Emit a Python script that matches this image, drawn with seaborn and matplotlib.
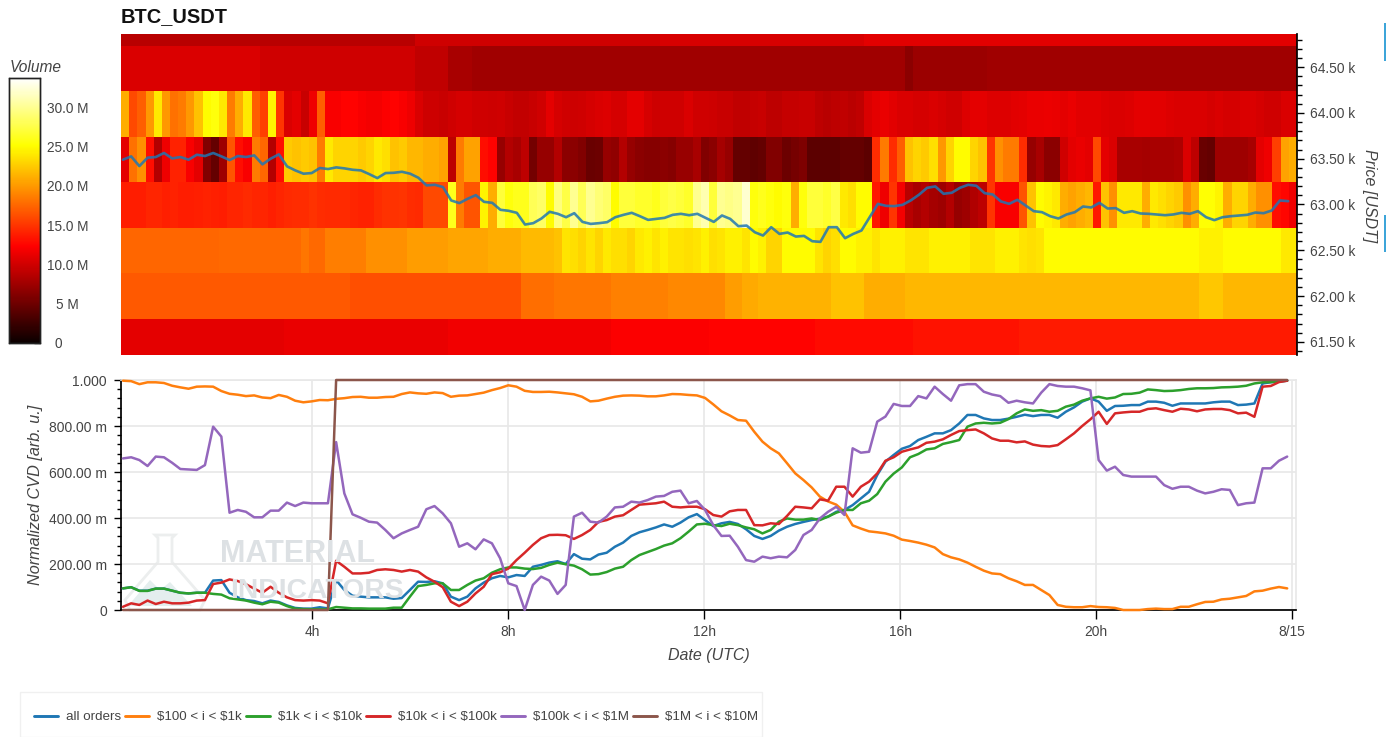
import numpy as np
import pandas as pd
import matplotlib
matplotlib.use("Agg")
import matplotlib.pyplot as plt
from matplotlib.lines import Line2D
from matplotlib.patches import Polygon, Rectangle
from matplotlib.ticker import FixedLocator, MultipleLocator
import seaborn as sns

W, H = 1387, 737

# heatmap volume per price bucket, in millions, one value per 10 minute column
row_64850 = [8.8]*36 + [10]*30 + [10.3]*25 + [10.8]*53
row_64500 = [10.4]*17 + [9.9]*2 + [10]*17 + [9.2]*4 + [8]*3 + [7.6]*53 + [6.5] + [7.3]*9 + [7.6]*38
row_64000 = [21,16,17,20,24,20,18,18.5,20,22,25,25.5,24,18.5,21,24,17,15.5,24.5,15,
             10.5,11,9.5,11.5,17,12,12,12.4,12.4,12,11.8,11.8,12.2,12.4,12,11.5,
             10.5,9.8,9.8,9.6,10,10.2,10.2,10,10,9.8,9.9,9.6,9.3,9.3,9.6,10,11,10.2,10,9.8,10,10.2,10.4,10.6,
             10.2,10.2,11,11,10.2,9.8,9.9,10,10,10.4,10,10,9.8,
             9.6,9.6,9.2,9.2,9.4,9.6,9,9,9.4,9.4,9.6,9.6,9,8.8,9,9.2,8.9,9.2,10.5,11,11.2,10.8,10.4,10.4,10.2,10.2,10.4,10.2,10,10,10.6,11,11,10.6,10.6,10.6,
             10.8,11,11.2,11.2,11.4,11.2,11,11.2,10.8,10.8,10.8,10.6,10.5,10.4,10.6,11,11,10.8,10.8,10.6,10.5,10.4,10.4,10.5,10.2,10.5,10.2,10.2,10.4,10.4,10.2,10,10,10.4,10.4]
row_63500 = [11,18,19.5,13,8.5,11.5,14,14,12,11,6,4.6,7.5,16.5,13,12,18.5,17.5,8.5,13,
             22.5,22,22.5,22,18.5,24,23,23,23,22.5,23,24,23.5,22,22.5,21.5,21.5,21,21,20.5,
             9,18.5,20.5,20.5,13,12.4,7,8.5,8,9,5.3,7,7,8.5,6.5,6.5,6,4.8,5,7,
             6.8,8.5,7,6.5,6.2,6.2,6.5,6.2,7.2,7.2,8,6,6.5,7.8,7,4.6,4.6,4.3,4.5,6,
             6,5,5.4,5.8,4.2,4.2,4.2,4.2,4.6,4.6,4.6,4.2,14.5,18.5,14.5,17,22,23,22.5,23.5,
             20,23,25,25,23,22,15,19.5,18.5,18.5,14.5,7,8,6.5,6.5,10,11,11.2,11,16,
             11,10.5,8,8,8,7.8,8,8,8,8.2,10.5,9,4.8,4.5,7.5,7.5,7.5,7.5,8,11,
             11.5,15.5,20.5,21]
row_63000 = [13.8,13.8,13.8,14.2,14.2,13.9,14,13.7,13.7,13.9,14,13.9,13.7,14.2,14.2,14.4,14.2,14.2,13.9,14.2,
             14.4,14.6,14.6,14.8,14.6,14.4,14.4,14.4,14.2,14,14,14.6,14.8,14.8,15,14.6,14.4,16,16,16,
             26,18.5,16.5,16.5,24.5,21,27,25.5,26,26,28,28.5,25,29.3,27.5,30,28,30,29,28.5,25,27,27,26.5,26.5,26,27,27.5,27,26.5,30,31,27,
             30,29.5,30,32,25.5,26,25.5,25,25.5,21,25.5,27,27,26.5,27.5,24,23.5,25,25,13.5,11.5,15,11.8,8.8,8,8.5,7.8,7.5,8.5,7,7.5,8.3,9,15,12,12,
             12,16.5,22,25,24.5,24,21,20.5,21,21.5,13.5,22,19.5,24,24,24,21,24,23.5,23,22.5,19.5,21,25.2,25.2,24.5,21,23,23,21,19.5,19.5,13,12.6,11.5]
row_62500 = [17.4]*12 + [17.6]*10 + [18.2] + [17.6]*2 + [18.6]*5 + [19.6]*5 + [20.2]*5 + [20.6]*5 + [21]*4 + [21.6]*4 + [22,
             23.8,23.5,23,23.8,23,24,23.5,23.5,23,24,24.4,23.8,24.4,23.8,23.8,23.5,23.8,24.4,23.5,23.8,24.4,24.4,23.8,25,24.4,23,23,25,25,25,25,23.8,23,23.5,25,25,24.4,24.4,23.8,24.4,24.4,
             24.4,23.8,23.8,23.8,24.4,24.4,24.4,24.4,24.4,23.8,23.8,23.8,24.4,24.4,24.4,23.8,23.5,23.8] + [25]*19 + [24.4]*3 + [25]*7 + [24]*2
row_62000 = [16.8]*28 + [16.2]*21 + [17.8]*4 + [18.2]*7 + [18.8]*7 + [19.2]*7 + [20.2]*2 + [20.8]*2 + [21.3]*9 + [22]*4 + [21]*5 + [21.5]*36 + [22.3]*3 + [21.5]*9
row_61500 = [11]*20 + [11.2]*20 + [11.6]*20 + [12.2]*12 + [12.5]*13 + [12.9]*12 + [13.2]*13 + [13.6]*34

price_ticks = [61500, 62000, 62500, 63000, 63500, 64000, 64500]
price_labels = ["61.50 k", "62.00 k", "62.50 k", "63.00 k", "63.50 k", "64.00 k", "64.50 k"]
volume_ticks = [0, 5, 10, 15, 20, 25, 30]
volume_labels = ["0", "5 M", "10.0 M", "15.0 M", "20.0 M", "25.0 M", "30.0 M"]

# hours since midnight for the line samples
hours = np.linspace(0.14, 23.9, 143)

price = [63489,63525,63419,63511,63518,63562,63503,63518,63489,63543,63529,63562,63525,63485,63529,63518,63536,63438,63500,63547,
         63416,63372,63336,63343,63398,63387,63405,63394,63379,63372,63332,63288,63343,63346,63357,63336,63292,63208,63215,63190,63044,63015,
         63062,63102,63029,63018,62942,62931,62909,62781,62796,62847,62920,62898,62861,62905,62810,62788,62796,62807,62861,62887,62909,62872,
         62832,62843,62854,62887,62898,62883,62898,62854,62810,62880,62843,62763,62770,62697,62661,62752,62679,62694,62650,62657,62599,62592,
         62752,62752,62632,62679,62716,62861,63007,62985,62982,62996,63044,63106,63182,63197,63117,63128,63182,63215,63204,63124,63109,63033,
         63007,63051,62989,62927,62916,62872,62847,62891,62916,62978,62967,63018,62956,62960,62909,62927,62902,62898,62891,62883,62891,62909,
         62898,62927,62861,62829,62861,62872,62880,62887,62912,62905,62934,63044,63036]

all_orders = [94,99,84,84,93,93,84,75,72,75,75,128,130,75,55,43,39,29,41,35,20,9,6,6,12,7,130,87,62,58,55,55,55,49,52,87,123,122,125,116,58,43,
              58,94,119,138,148,142,152,148,188,196,206,212,200,243,223,220,241,249,275,293,322,338,348,359,372,362,380,403,417,391,365,377,383,374,351,322,309,322,345,362,374,383,391,397,406,427,435,456,485,514,587,645,674,701,713,739,
              753,768,768,782,811,848,848,833,826,826,832,840,849,843,848,848,836,862,881,906,920,906,866,887,888,891,891,906,906,901,888,898,898,898,898,903,906,906,891,893,898,985,990,993,997]
band_100_1k = [997,995,982,990,990,987,975,968,962,971,972,971,952,940,936,930,933,924,921,935,927,910,903,907,913,912,918,921,926,927,923,923,926,927,939,946,942,940,946,943,927,932,
               933,939,945,956,965,977,971,953,948,948,949,946,942,938,927,907,910,919,927,932,933,932,929,929,933,939,938,935,933,922,894,864,846,826,823,775,732,703,681,638,594,565,533,493,472,458,427,368,354,342,338,333,323,306,300,293,
               284,272,243,229,220,206,188,171,159,156,138,125,109,109,87,65,22,14,12,12,17,13,12,9,0,0,0,4,6,4,4,14,14,25,35,36,46,49,55,61,81,84,93,100,94]
band_1k_10k = [94,99,83,83,93,93,84,75,72,75,75,70,67,51,46,41,32,25,36,32,17,6,4,3,3,3,13,10,7,7,6,6,6,10,10,58,104,109,116,116,87,87,
               109,128,138,162,177,185,185,180,178,183,196,206,199,193,177,154,156,165,180,188,217,239,252,265,280,290,312,341,372,375,369,365,375,369,359,351,333,348,384,398,393,393,398,391,406,423,435,435,464,475,504,558,593,620,664,678,
               698,703,722,730,739,797,811,814,811,814,830,855,872,866,869,862,866,884,893,910,920,927,919,924,939,940,945,959,956,952,953,956,961,964,964,965,968,969,971,975,985,990,991,995,997]
band_10k_100k = [14,29,22,41,26,36,29,29,32,41,43,113,119,133,126,112,93,75,101,75,55,43,41,43,41,29,214,188,159,159,162,174,177,174,167,174,167,142,123,99,36,17,
                 36,72,101,156,164,180,217,249,283,312,326,327,325,309,326,348,383,391,406,412,435,458,461,464,471,449,446,449,449,438,413,406,429,435,435,369,368,377,374,409,449,446,442,481,475,536,536,493,536,558,594,649,664,688,698,707,
                 727,732,742,761,778,782,785,768,746,736,736,729,733,719,713,711,717,742,768,800,829,862,809,855,859,862,862,874,877,869,862,875,872,864,872,874,874,869,855,858,840,971,974,991,997]
band_100k_1m = [659,664,652,626,667,664,640,613,611,609,630,797,754,423,435,427,403,403,432,432,467,452,467,464,464,464,730,507,416,401,384,380,348,312,333,348,362,438,452,420,377,275,
                290,264,307,290,225,116,104,0,109,145,128,70,109,406,423,384,380,406,446,449,471,467,478,493,496,514,519,464,474,435,369,322,323,275,217,210,232,225,232,229,261,326,348,398,427,449,413,703,684,688,819,841,896,887,887,930,
                920,971,939,910,977,982,982,949,937,930,901,910,903,898,945,982,974,971,971,964,955,652,606,623,587,580,580,580,580,543,527,536,536,519,507,514,525,522,456,464,467,616,616,649,667]
band_1m_10m = [0]*26 + [1000]*117

series_names = ["all orders", r"\$100 < i < \$1k", r"\$1k < i < \$10k", r"\$10k < i < \$100k", r"\$100k < i < \$1M", r"\$1M < i < \$10M"]
series_colors = ["#1f77b4", "#ff7f0e", "#2ca02c", "#d62728", "#9467bd", "#8c564b"]

cvd_ticks = [0, 200, 400, 600, 800, 1000]
cvd_labels = ["0", "200.00 m", "400.00 m", "600.00 m", "800.00 m", "1.000"]
time_ticks = [4, 8, 12, 16, 20, 24]
time_labels = ["4h", "8h", "12h", "16h", "20h", "8/15"]

sns.set_theme(style="white")
plt.rcParams["font.family"] = ["Liberation Sans", "DejaVu Sans"]
TEXT = "#444444"


def rect(x0, y0, x1, y1):
    # pixel box of the reference to figure fractions
    return [x0 / W, 1 - y1 / H, (x1 - x0) / W, (y1 - y0) / H]


fig = plt.figure(figsize=(W / 100, H / 100), dpi=100, facecolor="white")
ax_heat = fig.add_axes(rect(121, 34, 1297, 355))
ax_price = fig.add_axes(rect(121, 34, 1297, 355), facecolor="none")
ax_cbar = fig.add_axes(rect(9, 78, 40, 343))
ax_cvd = fig.add_axes(rect(121, 380, 1296, 610))

# heatmap, top row first
volume = pd.DataFrame([row_64850, row_64500, row_64000, row_63500, row_63000, row_62500, row_62000, row_61500])
sns.heatmap(volume, ax=ax_heat, cmap="hot", vmin=0, vmax=33.7, cbar=True, cbar_ax=ax_cbar,
            xticklabels=False, yticklabels=False)
ax_heat.set_ylim(7.79, 0.74)
ax_heat.set_xlabel("")
ax_heat.set_ylabel("")

for s in ax_cbar.spines.values():
    s.set_visible(True)
    s.set_color("#222222")
    s.set_linewidth(1)
ax_cbar.set_yticks(volume_ticks)
ax_cbar.set_yticklabels(volume_labels)
ax_cbar.tick_params(axis="y", which="major", direction="in", length=4.5, width=1, color="#222222",
                    labelcolor=TEXT, labelsize=9.8, pad=20, right=True, labelright=True)
for t in ax_cbar.yaxis.get_major_ticks():
    t.label2.set_ha("center")
ax_cbar.yaxis.get_major_ticks()[0].set_pad(13)
fig.text(10 / W, 1 - 67 / H, "Volume", fontsize=11.2, style="italic", color=TEXT, va="center")

# price line over the heatmap
sns.lineplot(x=hours, y=price, ax=ax_price, color="#1f77b4", linewidth=1.9, alpha=0.85)
ax_price.set_xlim(0.1, 24.08)
ax_price.set_ylim(61357, 64861)
ax_price.xaxis.set_visible(False)
ax_price.yaxis.tick_right()
ax_price.yaxis.set_major_locator(FixedLocator(price_ticks))
ax_price.yaxis.set_major_formatter(plt.FixedFormatter(price_labels))
ax_price.yaxis.set_minor_locator(MultipleLocator(100))
ax_price.tick_params(axis="y", which="major", length=5.2, width=1, color="black", labelcolor=TEXT,
                     labelsize=9.9, pad=4, right=True)
ax_price.tick_params(axis="y", which="minor", length=3.4, width=1, color="black", right=True)
for name, s in ax_price.spines.items():
    s.set_visible(name == "right")
ax_price.spines["right"].set_color("black")
fig.text(1370 / W, 1 - 196 / H, "Price [USDT]", rotation=270, fontsize=11.5, style="italic",
         color=TEXT, ha="center", va="center")
fig.text(121 / W, 1 - 17 / H, "BTC_USDT", fontsize=14.4, fontweight="bold", color="#111111", va="center")

# lower panel
cvd = pd.DataFrame({"hours": hours, series_names[0]: all_orders, series_names[1]: band_100_1k,
                    series_names[2]: band_1k_10k, series_names[3]: band_10k_100k,
                    series_names[4]: band_100k_1m, series_names[5]: band_1m_10m})
cvd_long = cvd.melt(id_vars="hours", var_name="series", value_name="cvd")
sns.lineplot(data=cvd_long, x="hours", y="cvd", hue="series", hue_order=series_names,
             palette=dict(zip(series_names, series_colors)), linewidth=1.8, estimator=None,
             errorbar=None, ax=ax_cvd, zorder=3)
for line in ax_cvd.lines:
    line.set_clip_on(False)

ax_cvd.set_xlim(0.1, 24.08)
ax_cvd.set_ylim(0, 1000)
ax_cvd.set_xticks(time_ticks)
ax_cvd.set_xticklabels(time_labels)
ax_cvd.set_yticks(cvd_ticks)
ax_cvd.set_yticklabels(cvd_labels)
ax_cvd.yaxis.set_minor_locator(MultipleLocator(40))
ax_cvd.grid(True, which="major", color="#e8e8e8", linewidth=1.2)
ax_cvd.set_axisbelow(True)
ax_cvd.tick_params(axis="y", which="major", left=True, length=5.2, width=1, color="black",
                   labelcolor=TEXT, labelsize=10, pad=5)
ax_cvd.tick_params(axis="y", which="minor", left=True, length=3, width=1, color="black")
ax_cvd.tick_params(axis="x", which="major", bottom=True, length=6.5, width=1, color="black",
                   labelcolor=TEXT, labelsize=9.9, pad=4.5)
ax_cvd.spines["left"].set_color("black")
ax_cvd.spines["bottom"].set_color("black")
ax_cvd.spines["top"].set_color("#e8e8e8")
ax_cvd.spines["right"].set_color("#e8e8e8")
ax_cvd.set_xlabel("Date (UTC)", fontsize=11.5, style="italic", color=TEXT, labelpad=6)
ax_cvd.set_ylabel("Normalized CVD [arb. u.]", fontsize=11.7, style="italic", color=TEXT, labelpad=4)

# watermark sits under the lines
fig.text(220 / W, 1 - 554 / H, "MATERIAL", fontsize=22, fontweight="bold", color="#dde1e4",
         va="center", zorder=0)
fig.text(230 / W, 1 - 591 / H, "INDICATORS", fontsize=20.4, fontweight="bold", color="#dde1e4",
         va="center", zorder=0)
flask = [(155, 535), (175, 535), (172, 538), (172, 562), (205, 600), (200, 610), (130, 610), (125, 600), (158, 562), (158, 538)]
fig.add_artist(Polygon([(x / W, 1 - y / H) for x, y in flask], closed=True, fill=False, edgecolor="#eceeee",
                       linewidth=2, transform=fig.transFigure, zorder=0))
hill = [(128, 606), (150, 580), (160, 590), (170, 582), (192, 606)]
fig.add_artist(Polygon([(x / W, 1 - y / H) for x, y in hill], closed=True, facecolor="#e4eeee", edgecolor="none",
                       transform=fig.transFigure, zorder=0))
ax_cvd.patch.set_alpha(0)

# legend strip under the chart
handles = [Line2D([], [], color=c, linewidth=2.1) for c in series_colors]
ax_cvd.get_legend().remove()
fig.legend(handles, series_names, loc="center left", bbox_to_anchor=(27 / W, 1 - 717 / H), ncol=6, frameon=False,
           fontsize=9.6, handlelength=1.85, handletextpad=0.55, columnspacing=0.3, labelcolor=TEXT, borderpad=0)
fig.add_artist(Rectangle((20 / W, 0), 742 / W, 45 / H, transform=fig.transFigure, fill=False,
                         edgecolor="#f0f0f0", linewidth=1))

# small cut off markers at the right edge of the page
for y0, y1 in [(23, 61), (215, 252)]:
    fig.add_artist(Rectangle((1384 / W, 1 - y1 / H), 2 / W, (y1 - y0) / H, transform=fig.transFigure,
                             facecolor="#3da5d9", edgecolor="none"))

fig.savefig("out.png", dpi=100)
plt.close(fig)
